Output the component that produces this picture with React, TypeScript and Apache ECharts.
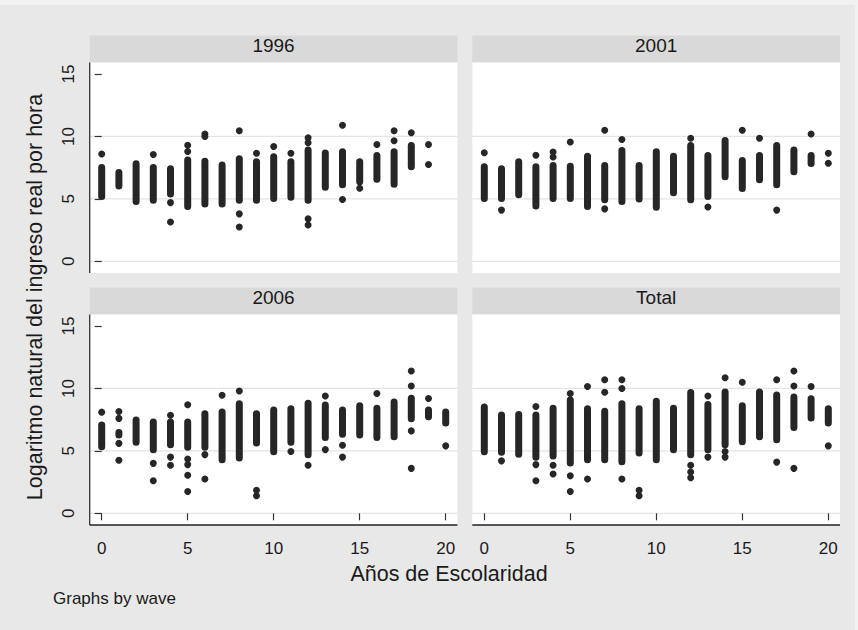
import React, { useEffect, useRef } from "react";
import * as echarts from "echarts";

// ---------------- data ----------------
const panelTitles = ["1996", "2001", "2006", "Total"];
const xTickValues = [0, 5, 10, 15, 20];
const yTickValues = [0, 5, 10, 15];
const gridLineValues = [0, 5, 10];
const xAxisTitle = "Años de Escolaridad";
const yAxisTitle = "Logaritmo natural del ingreso real por hora";
const noteText = "Graphs by wave";

// stacks of overlapping points: [years of schooling, lowest log wage, highest log wage]
const bands1996 = [
  [0, 4.9, 7.8], [1, 5.75, 7.4], [2, 4.5, 8.1], [3, 4.6, 7.8], [4, 5.1, 7.7],
  [5, 4.1, 8.4], [6, 4.3, 8.3], [7, 4.3, 8.0], [8, 4.6, 8.5], [9, 4.6, 8.25],
  [10, 4.75, 8.65], [11, 4.85, 8.25], [12, 4.6, 9.2], [13, 5.65, 8.95], [14, 5.85, 9.05],
  [15, 6.1, 8.25], [16, 6.3, 8.75], [17, 5.9, 9.05], [18, 7.3, 9.55],
];
// isolated points: [years of schooling, log wage]
const points1996 = [
  [0, 8.6], [3, 8.55], [4, 4.7], [4, 3.15], [5, 8.8], [5, 9.3], [6, 10.0], [6, 10.2],
  [8, 10.45], [8, 3.8], [8, 2.75], [9, 8.65], [10, 9.2], [11, 8.65], [12, 9.9], [12, 9.5],
  [12, 3.4], [12, 2.9], [14, 10.9], [14, 4.95], [15, 5.85], [16, 9.35], [17, 10.45], [17, 9.65],
  [18, 10.3], [19, 9.35], [19, 7.75],
];

const bands2001 = [
  [0, 4.75, 7.85], [1, 4.75, 7.7], [2, 5.05, 8.25], [3, 4.15, 7.85], [4, 4.75, 7.95],
  [5, 4.75, 7.9], [6, 4.1, 8.7], [7, 4.65, 7.95], [8, 4.5, 9.15], [9, 4.7, 7.95],
  [10, 4.05, 9.05], [11, 5.2, 8.7], [12, 4.65, 9.55], [13, 4.9, 8.75], [14, 6.5, 9.95],
  [15, 5.55, 8.35], [16, 6.25, 8.75], [17, 5.85, 9.55], [18, 6.9, 9.2], [19, 7.55, 8.75],
];
const points2001 = [
  [0, 8.7], [1, 4.1], [3, 8.5], [4, 8.75], [4, 8.35], [5, 9.55], [7, 10.5], [7, 4.2],
  [8, 9.75], [12, 9.85], [13, 4.35], [15, 10.5], [16, 9.85], [17, 4.1], [19, 10.2],
  [20, 8.65], [20, 7.85],
];

const bands2006 = [
  [0, 5.05, 7.35], [1, 6.0, 6.75], [2, 5.4, 7.75], [3, 4.8, 7.6], [4, 5.2, 7.6],
  [5, 5.0, 7.6], [6, 5.0, 8.25], [7, 4.0, 8.4], [8, 4.15, 9.05], [9, 5.35, 8.25],
  [10, 4.65, 8.55], [11, 5.4, 8.65], [12, 4.4, 9.1], [13, 5.8, 8.95], [14, 6.05, 8.55],
  [15, 6.0, 8.9], [16, 5.8, 8.7], [17, 5.85, 9.2], [18, 7.3, 9.5], [19, 7.45, 8.55],
  [20, 6.95, 8.4],
];
const points2006 = [
  [0, 8.1], [1, 8.15], [1, 7.6], [1, 5.6], [1, 4.25], [3, 4.0], [3, 2.6], [4, 7.85],
  [4, 4.5], [4, 3.85], [5, 8.7], [5, 4.35], [5, 3.9], [5, 3.05], [5, 1.75], [6, 4.7],
  [6, 2.75], [7, 9.45], [8, 9.8], [9, 1.85], [9, 1.4], [11, 4.95], [12, 3.85], [13, 9.4],
  [13, 5.1], [14, 5.45], [14, 4.5], [16, 9.6], [18, 11.4], [18, 10.2], [18, 6.6], [18, 3.6],
  [19, 9.2], [20, 5.4],
];

const bandsTotal = [
  [0, 4.65, 8.8], [1, 4.6, 8.15], [2, 4.45, 8.2], [3, 4.2, 8.15], [4, 4.3, 8.7],
  [5, 3.75, 9.35], [6, 4.0, 8.65], [7, 4.0, 8.45], [8, 3.85, 9.05], [9, 4.55, 8.65],
  [10, 4.0, 9.25], [11, 4.8, 8.7], [12, 4.4, 9.95], [13, 4.8, 9.0], [14, 5.2, 10.0],
  [15, 5.45, 8.9], [16, 5.85, 10.0], [17, 5.6, 9.75], [18, 6.6, 9.6], [19, 7.35, 9.45],
  [20, 6.95, 8.65],
];
const pointsTotal = [
  [1, 4.2], [3, 8.55], [3, 3.9], [3, 2.6], [4, 3.85], [4, 3.15], [5, 9.6], [5, 3.0],
  [5, 1.75], [6, 10.15], [6, 2.75], [7, 10.7], [7, 9.7], [8, 10.7], [8, 10.0], [8, 2.75],
  [9, 1.85], [9, 1.4], [12, 3.85], [12, 3.3], [12, 2.85], [13, 9.4], [13, 4.5], [14, 10.85],
  [14, 4.95], [14, 4.5], [15, 10.5], [17, 10.7], [17, 4.1], [18, 11.4], [18, 10.2], [18, 3.6],
  [19, 10.15], [20, 5.4],
];

// ---------------- layout / style ----------------
const FONT = '"Liberation Sans", Arial, Helvetica, sans-serif';
const TEXT = "#1a1a1a";
const DOT = "#262626";
const BG = "#e8e8e8";
const HEADER_BG = "#d9d9d9";
const GRID_W = 344;
const GRID_H = 187.3;
const COL_LEFT = [101.7, 484.3];
const ROW_TOP = [74, 326];
const PAD = { l: 12, r: 11.7, t: 11.5, b: 11.7 };
const HEADER_H = 27;
const DOT_SIZE = 7;

const panels = [
  { title: panelTitles[0], bands: bands1996, points: points1996, col: 0, row: 0 },
  { title: panelTitles[1], bands: bands2001, points: points2001, col: 1, row: 0 },
  { title: panelTitles[2], bands: bands2006, points: points2006, col: 0, row: 1 },
  { title: panelTitles[3], bands: bandsTotal, points: pointsTotal, col: 1, row: 1 },
];

const renderBand = (params: any, api: any) => {
  const x = api.value(0);
  const lo = api.value(1);
  const hi = api.value(2);
  const top = api.coord([x, hi]);
  const bot = api.coord([x, lo]);
  const h = Math.max(DOT_SIZE, bot[1] - top[1]);
  return {
    type: "rect",
    shape: { x: top[0] - DOT_SIZE / 2, y: top[1], width: DOT_SIZE, height: h, r: DOT_SIZE / 2 },
    style: { fill: DOT },
  };
};

export default function App() {
  const ref = useRef<HTMLDivElement>(null);

  useEffect(() => {
    if (!ref.current) return;
    const chart = echarts.init(ref.current, undefined, { renderer: "svg" });

    const option: any = {
      animation: false,
      backgroundColor: "#f2f2f2",
      textStyle: { fontFamily: FONT },
      grid: panels.map((p) => ({
        left: COL_LEFT[p.col],
        top: ROW_TOP[p.row],
        width: GRID_W,
        height: GRID_H,
        containLabel: false,
      })),
      xAxis: panels.map((p, i) => ({
        type: "value",
        gridIndex: i,
        min: xTickValues[0],
        max: xTickValues[xTickValues.length - 1],
        interval: 5,
        position: "bottom",
        offset: PAD.b,
        z: 5,
        axisLine: { show: false },
        axisTick: { show: p.row === 1, length: 7, lineStyle: { color: "#333", width: 1.2 } },
        axisLabel: { show: p.row === 1, fontSize: 17, color: TEXT, margin: 15, fontFamily: FONT },
        splitLine: { show: false },
      })),
      yAxis: panels.map((p, i) => ({
        type: "value",
        gridIndex: i,
        min: yTickValues[0],
        max: yTickValues[yTickValues.length - 1],
        interval: 5,
        position: "left",
        offset: PAD.l,
        z: 5,
        axisLine: { show: false },
        axisTick: { show: p.col === 0, length: 7, lineStyle: { color: "#333", width: 1.2 } },
        axisLabel: { show: p.col === 0, fontSize: 17, color: TEXT, margin: 13, rotate: 90, fontFamily: FONT },
        splitLine: { show: false },
      })),
      series: panels.flatMap((p, i) => [
        {
          type: "custom",
          name: p.title + " bands",
          xAxisIndex: i,
          yAxisIndex: i,
          data: p.bands,
          encode: { x: 0, y: [1, 2] },
          renderItem: renderBand,
          z: 3,
          silent: true,
        },
        {
          type: "scatter",
          name: p.title,
          xAxisIndex: i,
          yAxisIndex: i,
          data: p.points,
          symbol: "circle",
          symbolSize: DOT_SIZE,
          itemStyle: { color: DOT, opacity: 1 },
          z: 3,
          silent: true,
        },
      ]),
    };
    chart.setOption(option);

    const graphics: any[] = [
      { type: "rect", shape: { x: 0, y: 5, width: 855, height: 625 }, style: { fill: BG }, z: -10, silent: true },
    ];
    panels.forEach((p, i) => {
      const gl = COL_LEFT[p.col];
      const gt = ROW_TOP[p.row];
      const px0 = gl - PAD.l;
      const px1 = gl + GRID_W + PAD.r;
      const py0 = gt - PAD.t;
      const py1 = gt + GRID_H + PAD.b;
      // header
      graphics.push({
        type: "rect",
        shape: { x: px0, y: py0 - HEADER_H, width: px1 - px0, height: HEADER_H },
        style: { fill: HEADER_BG },
        z: -9,
        silent: true,
      });
      graphics.push({
        type: "text",
        x: (px0 + px1) / 2,
        y: py0 - HEADER_H + 10.3,
        style: { text: p.title, fill: TEXT, font: `19px ${FONT}`, textAlign: "center", textVerticalAlign: "middle" },
        z: 6,
        silent: true,
      });
      // plot region
      graphics.push({
        type: "rect",
        shape: { x: px0, y: py0, width: px1 - px0, height: py1 - py0 },
        style: { fill: "#ffffff" },
        z: -9,
        silent: true,
      });
      // grid lines
      gridLineValues.forEach((v) => {
        const pt = chart.convertToPixel({ gridIndex: i } as any, [0, v]) as number[];
        graphics.push({
          type: "line",
          shape: { x1: px0, y1: pt[1], x2: px1, y2: pt[1] },
          style: { stroke: "#e4e4e4", lineWidth: 1.3 },
          z: -8,
          silent: true,
        });
      });
      // axis lines
      if (p.col === 0) {
        graphics.push({
          type: "line",
          shape: { x1: px0, y1: py0, x2: px0, y2: py1 },
          style: { stroke: "#333", lineWidth: 1.3 },
          z: 6,
          silent: true,
        });
      }
      if (p.row === 1) {
        graphics.push({
          type: "line",
          shape: { x1: px0, y1: py1, x2: px1, y2: py1 },
          style: { stroke: "#222", lineWidth: 1.3 },
          z: 6,
          silent: true,
        });
      }
    });
    // titles
    graphics.push({
      type: "text",
      x: 449,
      y: 574,
      style: { text: xAxisTitle, fill: TEXT, font: `21.5px ${FONT}`, textAlign: "center", textVerticalAlign: "middle" },
      z: 6,
      silent: true,
    });
    graphics.push({
      type: "text",
      x: 35,
      y: 297,
      rotation: Math.PI / 2,
      style: { text: yAxisTitle, fill: TEXT, font: `21.5px ${FONT}`, textAlign: "center", textVerticalAlign: "middle" },
      z: 6,
      silent: true,
    });
    graphics.push({
      type: "text",
      x: 53,
      y: 598,
      style: { text: noteText, fill: TEXT, font: `17px ${FONT}`, textAlign: "left", textVerticalAlign: "middle" },
      z: 6,
      silent: true,
    });
    chart.setOption({ graphic: { elements: graphics } });

    return () => chart.dispose();
  }, []);

  return <div ref={ref} style={{ position: "absolute", left: 0, top: 0, width: 858, height: 630 }} />;
}
